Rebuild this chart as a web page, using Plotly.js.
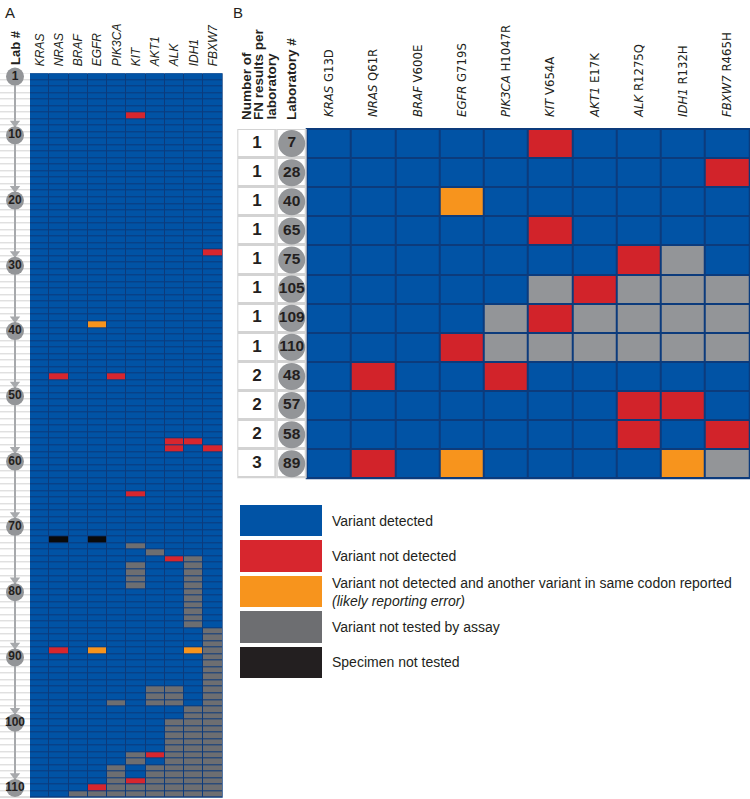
<!DOCTYPE html>
<html>
<head>
<meta charset="utf-8">
<script src="https://cdn.plot.ly/plotly-3.0.1.min.js"></script>
<style>
  body { margin: 0; background: #fff; }
  #chart { width: 750px; height: 799px; }
</style>
</head>
<body>
<div id="chart"></div>
<script>
// status codes: 0 detected, 1 not detected, 2 reporting error, 3 not tested by assay, 4 specimen not tested
const genes = ['KRAS', 'NRAS', 'BRAF', 'EGFR', 'PIK3CA', 'KIT', 'AKT1', 'ALK', 'IDH1', 'FBXW7'];
const variants = ['G13D', 'Q61R', 'V600E', 'G719S', 'H1047R', 'V654A', 'E17K', 'R1275Q', 'R132H', 'R465H'];

// panel A, one string per laboratory row (columns in gene order)
const rowsA = [
  '0000000000', '0000000000', '0000000000', '0000000000', '0000000000', '0000000000', '0000010000', '0000000000', '0000000000', '0000000000',
  '0000000000', '0000000000', '0000000000', '0000000000', '0000000000', '0000000000', '0000000000', '0000000000', '0000000000', '0000000000',
  '0000000000', '0000000000', '0000000000', '0000000000', '0000000000', '0000000000', '0000000000', '0000000001', '0000000000', '0000000000',
  '0000000000', '0000000000', '0000000000', '0000000000', '0000000000', '0000000000', '0000000000', '0000000000', '0002000000', '0000000000',
  '0000000000', '0000000000', '0000000000', '0000000000', '0000000000', '0000000000', '0100100000', '0000000000', '0000000000', '0000000000',
  '0000000000', '0000000000', '0000000000', '0000000000', '0000000000', '0000000000', '0000000110', '0000000101', '0000000000', '0000000000',
  '0000000000', '0000000000', '0000000000', '0000000000', '0000010000', '0000000000', '0000000000', '0000000000', '0000000000', '0000000000',
  '0000000000', '0404000000', '0000030000', '0000003000', '0000000130', '0000030030', '0000030030', '0000030030', '0000030030', '0000000030',
  '0000000030', '0000000030', '0000000030', '0000000030', '0000000030', '0000000003', '0000000003', '0000000003', '0102000023', '0000000003',
  '0000000003', '0000000003', '0000000003', '0000000003', '0000003303', '0000003303', '0000303303', '0000000033', '0000000033', '0000000333',
  '0000000333', '0000000333', '0000000333', '0000000333', '0000031333', '0000030333', '0000303333', '0000303333', '0000313333', '0001333333',
  '0033333333'
];
const labTicksA = [1, 10, 20, 30, 40, 50, 60, 70, 80, 90, 100, 110];

// panel B
const labsB = [7, 28, 40, 65, 75, 105, 109, 110, 48, 57, 58, 89];
const fnCountB = [1, 1, 1, 1, 1, 1, 1, 1, 2, 2, 2, 3];
const rowsB = [
  '0000010000', '0000000001', '0002000000', '0000010000', '0000000130', '0000031333',
  '0000313333', '0001333333', '0100100000', '0000000110', '0000000101', '0102000023'
];

const legendLabels = [
  'Variant detected',
  'Variant not detected',
  'Variant not detected and another variant in same codon reported<br><i>(likely reporting error)</i>',
  'Variant not tested by assay',
  'Specimen not tested'
];

const colorsA = ['#0153a5', '#d7262e', '#f7941d', '#6d6e71', '#0a0a0a'];
const colorsB = ['#0153a5', '#d2232a', '#f7941d', '#939598', '#0a0a0a'];
const colorsLegend = ['#0153a5', '#d7262e', '#f7941d', '#6d6e71', '#231f20'];
const gridBlue = '#0c3b7c';
const lightLine = '#d3d3d3';
const circleGray = '#939598';
const ink = '#231f20';
const SANS = 'Liberation Sans, Arial, sans-serif';
const NARROW = 'Liberation Sans Narrow, Arial Narrow, DejaVu Sans Condensed, sans-serif';

function discreteScale(colors) {
  const n = colors.length, out = [];
  colors.forEach((c, i) => { out.push([i / n, c]); out.push([(i + 1) / n, c]); });
  return out;
}
const px = x => x / 750;
const py = y => 1 - y / 799;

const rowNumA = rowsA.map((_, i) => i + 1);
const labStrB = labsB.map(String);
const white = [[0, '#ffffff'], [1, '#ffffff']];

const data = [
  // panel A heatmap
  {
    type: 'heatmap', xaxis: 'x', yaxis: 'y',
    x: genes, y: rowNumA, z: rowsA.map(s => s.split('').map(Number)),
    colorscale: discreteScale(colorsA), zmin: -0.5, zmax: 4.5,
    xgap: 1, ygap: 1, showscale: false, hoverinfo: 'skip'
  },
  // panel A lab column
  {
    type: 'heatmap', xaxis: 'x3', yaxis: 'y',
    x: [0.5], y: rowNumA, z: rowNumA.map(() => [0]),
    colorscale: white, ygap: 1, showscale: false, hoverinfo: 'skip'
  },
  {
    type: 'scatter', mode: 'lines', xaxis: 'x3', yaxis: 'y',
    x: [0.5, 0.5], y: [labTicksA[0], labTicksA[labTicksA.length - 1]],
    line: {color: '#a7a9ac', width: 2}, hoverinfo: 'skip', cliponaxis: false
  },
  {
    type: 'scatter', mode: 'markers', xaxis: 'x3', yaxis: 'y',
    x: labTicksA.slice(1).map(() => 0.5), y: labTicksA.slice(1).map(v => v - 1.9),
    marker: {symbol: 'triangle-down', size: 9, color: '#a7a9ac'}, hoverinfo: 'skip', cliponaxis: false
  },
  {
    type: 'scatter', mode: 'markers+text', xaxis: 'x3', yaxis: 'y',
    x: labTicksA.map(() => 0.5), y: labTicksA, text: labTicksA.map(String),
    textposition: 'middle center',
    textfont: {family: SANS, size: 12, color: ink, weight: 'bold'},
    marker: {size: 18, color: circleGray}, hoverinfo: 'skip', cliponaxis: false
  },
  // panel B heatmap
  {
    type: 'heatmap', xaxis: 'x2', yaxis: 'y2',
    x: genes, y: labStrB, z: rowsB.map(s => s.split('').map(Number)),
    colorscale: discreteScale(colorsB), zmin: -0.5, zmax: 4.5,
    xgap: 2, ygap: 2, showscale: false, hoverinfo: 'skip'
  },
  // panel B count column
  {
    type: 'heatmap', xaxis: 'x4', yaxis: 'y2',
    x: [0.5], y: labStrB, z: labsB.map(() => [0]),
    colorscale: white, xgap: 3, ygap: 3, showscale: false, hoverinfo: 'skip'
  },
  {
    type: 'scatter', mode: 'text', xaxis: 'x4', yaxis: 'y2',
    x: fnCountB.map(() => 0.5), y: labStrB, text: fnCountB.map(String),
    textfont: {family: SANS, size: 17, color: ink, weight: 'bold'}, hoverinfo: 'skip', cliponaxis: false
  },
  // panel B lab column
  {
    type: 'heatmap', xaxis: 'x5', yaxis: 'y2',
    x: [0.5], y: labStrB, z: labsB.map(() => [0]),
    colorscale: white, xgap: 3, ygap: 3, showscale: false, hoverinfo: 'skip'
  },
  {
    type: 'scatter', mode: 'markers+text', xaxis: 'x5', yaxis: 'y2',
    x: labsB.map(() => 0.5), y: labStrB, text: labStrB,
    textposition: 'middle center',
    textfont: {family: SANS, size: 15.5, color: ink, weight: 'bold'},
    marker: {size: 27, color: circleGray}, hoverinfo: 'skip', cliponaxis: false
  },
  // legend swatches
  {
    type: 'heatmap', xaxis: 'x6', yaxis: 'y6',
    x: [0.5], y: legendLabels.map((_, i) => i), z: legendLabels.map((_, i) => [i]),
    colorscale: discreteScale(colorsLegend), zmin: -0.5, zmax: 4.5,
    ygap: 4, showscale: false, hoverinfo: 'skip'
  }
];

const hidden = {visible: false, fixedrange: true};
const annotations = [
  {text: 'A', x: px(4), y: py(12), xanchor: 'left', yanchor: 'middle', font: {size: 15}},
  {text: 'B', x: px(232), y: py(12), xanchor: 'left', yanchor: 'middle', font: {size: 15}},
  {text: '<b>Lab #</b>', x: px(16), y: py(48), textangle: -90, xanchor: 'center', yanchor: 'middle', font: {size: 13}},
  {text: '<b>Number of</b>', x: px(247), y: py(121), textangle: -90, xanchor: 'center', yanchor: 'bottom', font: {size: 13.5}},
  {text: '<b>FN results per</b>', x: px(259), y: py(121), textangle: -90, xanchor: 'center', yanchor: 'bottom', font: {size: 13.5}},
  {text: '<b>laboratory</b>', x: px(271), y: py(121), textangle: -90, xanchor: 'center', yanchor: 'bottom', font: {size: 13.5}},
  {text: '<b>Laboratory #</b>', x: px(292), y: py(121), textangle: -90, xanchor: 'center', yanchor: 'bottom', font: {size: 13.5}}
].map(a => Object.assign({xref: 'paper', yref: 'paper', showarrow: false, borderpad: 0}, a));

legendLabels.forEach((t, i) => annotations.push({
  text: t, xref: 'paper', yref: 'y6', x: px(330), y: i,
  xanchor: 'left', yanchor: 'middle', align: 'left', showarrow: false,
  font: {size: 14, color: ink}
}));

const layout = {
  width: 750, height: 799,
  margin: {l: 0, r: 0, t: 0, b: 0},
  paper_bgcolor: '#ffffff', plot_bgcolor: '#ffffff',
  font: {family: SANS, color: ink},
  showlegend: false,
  xaxis: {
    domain: [px(30), px(222.7)], anchor: 'y', type: 'category', side: 'top',
    tickangle: -90, ticks: '', ticklabelstandoff: 6,
    tickfont: {family: SANS, size: 12, style: 'italic', color: ink},
    showgrid: false, zeroline: false, showline: false, fixedrange: true
  },
  yaxis: {
    domain: [py(797.7), py(73.3)], anchor: 'x', range: [rowsA.length + 0.5, 0.5],
    showticklabels: false, ticks: '', showgrid: false, zeroline: false, fixedrange: true
  },
  xaxis2: {
    domain: [px(306.7), px(749.3)], anchor: 'y2', type: 'category', side: 'top',
    tickangle: -90, ticks: '', ticklabelstandoff: 11,
    tickvals: genes, ticktext: genes.map((g, i) => '<i>' + g + '</i> ' + variants[i]),
    tickfont: {family: NARROW, size: 13, color: ink},
    showgrid: false, zeroline: false, showline: false, fixedrange: true
  },
  yaxis2: {
    domain: [py(478.3), py(129)], anchor: 'x2', type: 'category',
    range: [labsB.length - 0.5, -0.5],
    showticklabels: false, ticks: '', showgrid: false, zeroline: false, fixedrange: true
  },
  xaxis3: Object.assign({domain: [0, px(30)], anchor: 'y', range: [0, 1]}, hidden),
  xaxis4: Object.assign({domain: [px(237.3), px(276.7)], anchor: 'y2', range: [0, 1]}, hidden),
  xaxis5: Object.assign({domain: [px(276.7), px(306.7)], anchor: 'y2', range: [0, 1]}, hidden),
  xaxis6: Object.assign({domain: [px(240), px(322)], anchor: 'y6', range: [0, 1]}, hidden),
  yaxis6: Object.assign({domain: [py(680), py(503)], anchor: 'x6', range: [legendLabels.length - 0.5, -0.5]}, hidden),
  shapes: [
    {type: 'rect', xref: 'x domain', yref: 'y domain', x0: 0, x1: 1, y0: 0, y1: 1,
     fillcolor: gridBlue, line: {width: 0}, layer: 'below'},
    {type: 'rect', xref: 'x3 domain', yref: 'y domain', x0: 0, x1: 1, y0: 0, y1: 1,
     fillcolor: lightLine, line: {width: 0}, layer: 'below'},
    {type: 'rect', xref: 'x2 domain', yref: 'y2 domain', x0: 0, x1: 1, y0: 0, y1: 1,
     fillcolor: gridBlue, line: {color: gridBlue, width: 2}, layer: 'below'},
    {type: 'rect', xref: 'x4 domain', yref: 'y2 domain', x0: 0, x1: 1, y0: 0, y1: 1,
     fillcolor: lightLine, line: {width: 0}, layer: 'below'},
    {type: 'rect', xref: 'x5 domain', yref: 'y2 domain', x0: 0, x1: 1, y0: 0, y1: 1,
     fillcolor: lightLine, line: {width: 0}, layer: 'below'}
  ],
  annotations: annotations
};

Plotly.newPlot('chart', data, layout, {displayModeBar: false, staticPlot: true});
</script>
</body>
</html>
